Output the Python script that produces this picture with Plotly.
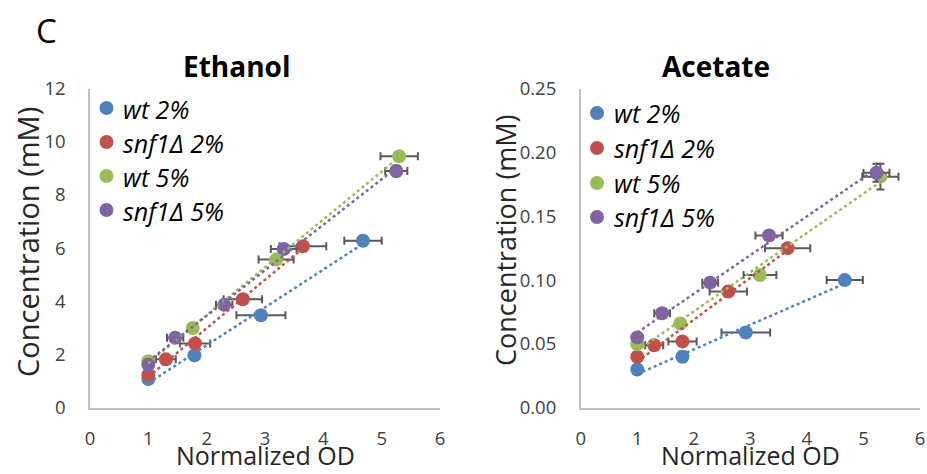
import numpy as np
import plotly.graph_objects as go

# ---------------- data ----------------
series_names = ["wt 2%", "snf1Δ 2%", "wt 5%", "snf1Δ 5%"]
colors = ["#4F81BD", "#C0504D", "#9BBB59", "#8064A2"]

# Ethanol panel
eth_x = [
    [1.0, 1.79, 2.93, 4.68],
    [1.0, 1.30, 1.80, 2.62, 3.65],
    [1.0, 1.76, 3.19, 5.30],
    [1.0, 1.46, 2.30, 3.32, 5.25],
]
eth_y = [
    [1.08, 1.97, 3.48, 6.28],
    [1.23, 1.82, 2.42, 4.08, 6.07],
    [1.75, 3.00, 5.57, 9.45],
    [1.62, 2.63, 3.87, 5.97, 8.90],
]
eth_xerr = [
    [0.03, 0.05, 0.42, 0.32],
    [0.03, 0.17, 0.26, 0.33, 0.40],
    [0.08, 0.05, 0.30, 0.32],
    [0.05, 0.14, 0.14, 0.22, 0.19],
]
eth_yerr = [
    [0.05, 0.08, 0.05, 0.05],
    [0.05, 0.05, 0.10, 0.05, 0.05],
    [0.05, 0.15, 0.05, 0.10],
    [0.05, 0.05, 0.05, 0.10, 0.20],
]

# Acetate panel
ace_x = [
    [1.0, 1.80, 2.92, 4.67],
    [1.0, 1.30, 1.80, 2.61, 3.66],
    [1.0, 1.76, 3.17, 5.30],
    [1.0, 1.44, 2.29, 3.33, 5.23],
]
ace_y = [
    [0.030, 0.040, 0.059, 0.100],
    [0.040, 0.049, 0.052, 0.091, 0.125],
    [0.050, 0.066, 0.104, 0.181],
    [0.055, 0.074, 0.098, 0.135, 0.184],
]
ace_xerr = [
    [0.03, 0.05, 0.43, 0.32],
    [0.03, 0.16, 0.25, 0.33, 0.40],
    [0.05, 0.05, 0.29, 0.32],
    [0.05, 0.14, 0.14, 0.24, 0.23],
]
ace_yerr = [
    [0.001, 0.004, 0.001, 0.001],
    [0.001, 0.001, 0.003, 0.002, 0.002],
    [0.002, 0.003, 0.002, 0.010],
    [0.002, 0.002, 0.002, 0.002, 0.007],
]

x_ticks = [0, 1, 2, 3, 4, 5, 6]
eth_ticks = [0, 2, 4, 6, 8, 10, 12]
ace_ticks = [0.0, 0.05, 0.10, 0.15, 0.20, 0.25]
ace_ticklabels = ["0.00", "0.05", "0.10", "0.15", "0.20", "0.25"]

FONT = "Open Sans"
ERR_COLOR = "#595959"

fig = go.Figure()

def add_panel(xs, ys, xerrs, yerrs, xa, ya):
    # markers with error bars
    for i, name in enumerate(series_names):
        fig.add_trace(go.Scatter(
            x=xs[i], y=ys[i], mode="markers", name=name,
            xaxis=xa, yaxis=ya, showlegend=False,
            marker=dict(color=colors[i], size=14),
            error_x=dict(type="data", array=xerrs[i], color=ERR_COLOR, thickness=2, width=4),
            error_y=dict(type="data", array=yerrs[i], color=ERR_COLOR, thickness=2, width=4),
        ))
    # linear trendlines (least squares fit of the data above)
    for i, name in enumerate(series_names):
        xv = np.array(xs[i]); yv = np.array(ys[i])
        m, b = np.polyfit(xv, yv, 1)
        xl = np.array([xv.min(), xv.max()])
        fig.add_trace(go.Scatter(
            x=xl, y=m * xl + b, mode="lines", xaxis=xa, yaxis=ya,
            showlegend=False, hoverinfo="skip",
            line=dict(color=colors[i], width=2.5, dash="dot"),
        ))

add_panel(eth_x, eth_y, eth_xerr, eth_yerr, "x", "y")
add_panel(ace_x, ace_y, ace_xerr, ace_yerr, "x2", "y2")

W, H = 927, 474
ydom = [(H - 407.8) / H, (H - 88.5) / H]
axis_common = dict(showline=True, linecolor="#BFBFBF", linewidth=1.5, showgrid=False,
                   zeroline=False, ticks="", automargin=False,
                   tickfont=dict(family=FONT, size=18.5, color="#404040"),
                   fixedrange=True)

fig.update_layout(
    width=W, height=H, margin=dict(l=0, r=0, t=0, b=0, pad=0, autoexpand=False),
    paper_bgcolor="white", plot_bgcolor="white",
    showlegend=False,
    xaxis=dict(domain=[90 / W, 440 / W], range=[0, 6], tickvals=x_ticks, anchor="y",
               ticklabelstandoff=13, **axis_common),
    yaxis=dict(domain=ydom, range=[0, 12], tickvals=eth_ticks, anchor="x",
               ticklabelstandoff=19, **axis_common),
    xaxis2=dict(domain=[580.7 / W, 920 / W], range=[0, 6], tickvals=x_ticks, anchor="y2",
                ticklabelstandoff=13, **axis_common),
    yaxis2=dict(domain=ydom, range=[0, 0.25], tickvals=ace_ticks, ticktext=ace_ticklabels,
                anchor="x2", ticklabelstandoff=19, **axis_common),
)

ann = []
def A(text, x, y, size, bold=False, italic=False, xanchor="center", yanchor="middle",
      angle=0, color="#000000"):
    if bold:
        text = "<b>" + text + "</b>"
    if italic:
        text = "<i>" + text + "</i>"
    ann.append(dict(text=text, x=x / W, y=1 - y / H, xref="paper", yref="paper",
                    showarrow=False, xanchor=xanchor, yanchor=yanchor, textangle=angle,
                    font=dict(family=FONT, size=size, color=color)))

A("C", 46, 31, 33)
A("Ethanol", 236, 66, 28, bold=True)
A("Acetate", 716, 66, 28, bold=True)
A("Normalized OD", 265, 474, 25, yanchor="bottom", color="#262626")
A("Normalized OD", 750, 474, 25, yanchor="bottom", color="#262626")
A("Concentration (mM)", 27, 242, 29, angle=-90, color="#262626")
A("Concentration (mM)", 505, 240, 27, angle=-90, color="#262626")

# legend entries (left panel and right panel)
leg_left_y = [109, 143, 177, 211]
leg_right_y = [113, 148, 183, 217]
shapes = []
for i, name in enumerate(series_names):
    A(name, 121, leg_left_y[i], 25, italic=True, xanchor="left")
    A(name, 612, leg_right_y[i], 25, italic=True, xanchor="left")
    for cx, cy in ((106.5, leg_left_y[i] - 1), (597, leg_right_y[i])):
        shapes.append(dict(type="circle", xref="paper", yref="paper",
                           x0=(cx - 7) / W, x1=(cx + 7) / W,
                           y0=1 - (cy + 7) / H, y1=1 - (cy - 7) / H,
                           fillcolor=colors[i], line=dict(width=0)))

fig.update_layout(annotations=ann, shapes=shapes)

fig.write_html("out.html")
